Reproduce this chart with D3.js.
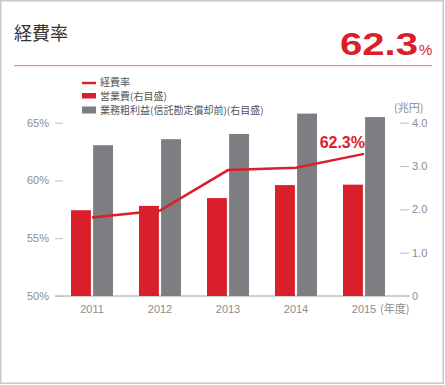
<!DOCTYPE html>
<html>
<head>
<meta charset="utf-8">
<script src="https://cdn.jsdelivr.net/npm/d3@7"></script>
<style>
  body { margin: 0; background: #fff; }
  svg { display: block; font-family: Roboto, "Noto Sans CJK JP", sans-serif; }
  .axis text { fill: #8c8c8c; font-size: 11px; font-weight: 300; }
  .axis line { stroke: #bdbdbd; }
</style>
</head>
<body>
<div id="viz"></div>
<script>
// data
var years = ['2011', '2012', '2013', '2014', '2015'];
var expenseRatio = [56.8, 57.4, 60.9, 61.1, 62.3];   // 経費率 (%), left axis
var opExpenses = [1.98, 2.08, 2.26, 2.56, 2.57];     // 営業費 (兆円), right axis
var grossProfit = [3.48, 3.62, 3.74, 4.21, 4.13];    // 業務粗利益, right axis
var leftTicks = [50, 55, 60, 65];
var rightTicks = [0, 1, 2, 3, 4];
var legendLabels = ['経費率', '営業費(右目盛)', '業務粗利益(信託勘定償却前)(右目盛)'];

var red = '#d9202a';
var gray = '#7e7e82';

var width = 445, height = 385;

var svg = d3.select('#viz').append('svg')
  .attr('width', width)
  .attr('height', height);

// outer frame
svg.append('rect')
  .attr('x', 0.75).attr('y', 0.75)
  .attr('width', width - 2.5).attr('height', height - 2.5)
  .attr('fill', 'none')
  .attr('stroke', '#c8c8c8')
  .attr('stroke-width', 1.5);

// header
svg.append('text')
  .attr('x', 14).attr('y', 40)
  .attr('font-family', '"Noto Sans CJK JP", sans-serif')
  .attr('font-size', 18)
  .attr('fill', '#333')
  .text('経費率');

svg.append('text')
  .attr('x', 340).attr('y', 55)
  .attr('font-family', '"Liberation Sans", Arial, sans-serif')
  .attr('font-weight', 'bold')
  .attr('font-size', 31)
  .attr('fill', red)
  .attr('textLength', 78)
  .attr('lengthAdjust', 'spacingAndGlyphs')
  .text('62.3');

svg.append('text')
  .attr('x', 419).attr('y', 55)
  .attr('font-family', '"Liberation Sans", Arial, sans-serif')
  .attr('font-size', 15)
  .attr('fill', red)
  .text('%');

svg.append('rect')
  .attr('x', 14).attr('y', 65)
  .attr('width', 418).attr('height', 1.2)
  .attr('fill', '#ee8f93');

// scales
var x = d3.scaleBand().domain(years).range([58, 398]);
var sub = d3.scaleBand().domain(['op', 'gross']).range([-21, 21]).paddingInner(0.1);
var yL = d3.scaleLinear().domain([50, 65]).range([296, 122.7]);
var yR = d3.scaleLinear().domain([0, 4]).range([296, 122.7]);

// baseline
svg.append('line')
  .attr('x1', 55).attr('x2', 410)
  .attr('y1', yR(0)).attr('y2', yR(0))
  .attr('stroke', '#cfcfcf')
  .attr('stroke-width', 2);

// left axis
var leftAxis = svg.append('g')
  .attr('class', 'axis')
  .attr('transform', 'translate(63,0)')
  .call(d3.axisLeft(yL).tickValues(leftTicks).tickSize(8).tickPadding(6)
    .tickFormat(function (d) { return d + '%'; }));
leftAxis.select('.domain').remove();

// right axis
var rightAxis = svg.append('g')
  .attr('class', 'axis')
  .attr('transform', 'translate(400,0)')
  .call(d3.axisRight(yR).tickValues(rightTicks).tickSize(9).tickPadding(3)
    .tickFormat(function (d) { return d === 0 ? '0' : d.toFixed(1); }));
rightAxis.select('.domain').remove();
rightAxis.selectAll('.tick').filter(function (d) { return d === 0; }).select('line').remove();

svg.append('text')
  .attr('x', 394).attr('y', 112)
  .attr('font-family', '"Noto Sans CJK JP", sans-serif')
  .attr('font-size', 11)
  .attr('fill', '#8c8c8c')
  .text('(兆円)');

// x axis labels
var xAxis = svg.append('g')
  .attr('class', 'axis')
  .attr('transform', 'translate(0,' + yR(0) + ')')
  .call(d3.axisBottom(x).tickSize(0).tickPadding(9));
xAxis.select('.domain').remove();

svg.append('text')
  .attr('x', 380).attr('y', 313)
  .attr('font-family', '"Noto Sans CJK JP", sans-serif')
  .attr('font-size', 11)
  .attr('fill', '#8c8c8c')
  .text('(年度)');

// bars
var groups = svg.selectAll('.year')
  .data(years)
  .enter().append('g')
  .attr('class', 'year')
  .attr('transform', function (d) { return 'translate(' + (x(d) + x.bandwidth() / 2) + ',0)'; });

groups.append('rect')
  .attr('x', sub('op'))
  .attr('width', sub.bandwidth())
  .attr('y', function (d, i) { return yR(opExpenses[i]); })
  .attr('height', function (d, i) { return yR(0) - yR(opExpenses[i]); })
  .attr('fill', red);

groups.append('rect')
  .attr('x', sub('gross'))
  .attr('width', sub.bandwidth())
  .attr('y', function (d, i) { return yR(grossProfit[i]); })
  .attr('height', function (d, i) { return yR(0) - yR(grossProfit[i]); })
  .attr('fill', gray);

// expense ratio line
var line = d3.line()
  .x(function (d, i) { return x(years[i]) + x.bandwidth() / 2; })
  .y(function (d) { return yL(d); });

svg.append('path')
  .datum(expenseRatio)
  .attr('d', line)
  .attr('fill', 'none')
  .attr('stroke', red)
  .attr('stroke-width', 2.5);

var last = expenseRatio.length - 1;
svg.append('text')
  .attr('x', x(years[last]) + x.bandwidth() / 2 + 1)
  .attr('y', yL(expenseRatio[last]) - 5.5)
  .attr('text-anchor', 'end')
  .attr('font-family', '"Liberation Sans", Arial, sans-serif')
  .attr('font-weight', 'bold')
  .attr('font-size', 16)
  .attr('fill', red)
  .text(expenseRatio[last] + '%');

// legend
var legendY = [82.5, 96.5, 110.5];
var legend = svg.append('g')
  .attr('transform', 'translate(82,0)');

legend.append('line')
  .attr('x1', 0).attr('x2', 14)
  .attr('y1', 83).attr('y2', 83)
  .attr('stroke', red)
  .attr('stroke-width', 2.5);

legend.append('rect')
  .attr('x', 0).attr('y', 93)
  .attr('width', 14).attr('height', 5.5)
  .attr('fill', red);

legend.append('rect')
  .attr('x', 0).attr('y', 106.5)
  .attr('width', 14).attr('height', 7)
  .attr('fill', gray);

legend.selectAll('.legend-label')
  .data(legendLabels)
  .enter().append('text')
  .attr('class', 'legend-label')
  .attr('x', 18)
  .attr('y', function (d, i) { return legendY[i]; })
  .attr('dy', '0.36em')
  .attr('font-family', '"Noto Sans CJK JP", sans-serif')
  .attr('font-size', 10)
  .attr('fill', '#555')
  .text(function (d) { return d; });
</script>
</body>
</html>
